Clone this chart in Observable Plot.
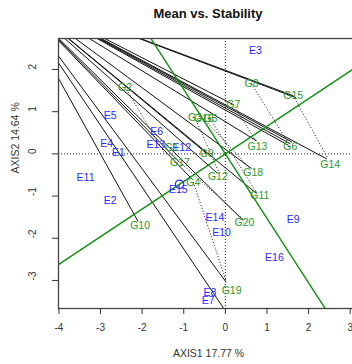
<!DOCTYPE html>
<html><head><meta charset="utf-8">
<script src="https://cdn.jsdelivr.net/npm/d3@7"></script>
<script src="https://cdn.jsdelivr.net/npm/@observablehq/plot@0.6"></script>
<style>
html,body{margin:0;padding:0;background:#fff;overflow:hidden;}
#wrap{position:relative;width:352px;height:364px;overflow:hidden;font-family:"Liberation Sans",Arial,sans-serif;}
#title{position:absolute;left:108px;width:200px;top:6px;text-align:center;font-weight:bold;font-size:13px;color:#111;}
#chart{position:absolute;left:0;top:0;width:360px;}
#chart svg{max-width:none !important;}
</style></head><body>
<div id="wrap"><div id="chart"></div><div id="title">Mean vs. Stability</div></div>
<script>
// Environments (blue)
const envNames = ["E1","E2","E3","E4","E5","E6","E7","E8","E9","E10","E11","E12","E13","E14","E15","E16"];
const envX = [-2.57,-2.77,0.72,-2.85,-2.77,-1.65,-0.41,-0.37,1.63,-0.09,-3.36,-1.05,-1.67,-0.25,-1.13,1.18];
const envY = [0.04,-1.11,2.45,0.24,0.91,0.53,-3.48,-3.29,-1.56,-1.87,-0.57,0.16,0.21,-1.52,-0.85,-2.46];
// Genotypes (green)
const genNames = ["G1","G2","G3","G4","G5","G6","G7","G8","G9","G10","G11","G12","G13","G14","G15","G16","G17","G18","G19","G20"];
const genX = [-1.29,-2.41,-0.73,-0.77,-0.36,1.56,0.19,0.63,-0.45,-2.05,0.83,-0.18,0.77,2.52,1.63,-0.52,-1.09,0.67,0.15,0.46];
const genY = [0.16,1.58,0.86,-0.67,0.83,0.18,1.17,1.66,0.01,-1.70,-0.99,-0.54,0.17,-0.26,1.38,0.83,-0.20,-0.44,-3.24,-1.64];
// Average environment coordinate (small circle)
const aecX = -1.1, aecY = -0.72;
// Solid lines: common far point (outside the frame) and line ends
const solidStartX = -5.2, solidStartY = 3.9;
const solidEndX = [1.63,1.70,2.44,1.56,1.52,1.60,0.75,0.63,0.75,0.43,0.02,0.02,-2.10,-0.20,-0.45,-0.80,-1.10,0.19];
const solidEndY = [1.38,1.33,-0.12,0.24,0.20,0.28,0.31,-0.35,-0.94,-1.58,-3.04,-3.75,-1.60,-0.45,0.01,-0.60,-0.20,1.17];
// Dotted lines: from a genotype to its foot point
const dotFromX = [-2.41,0.63,1.63,0.19,-0.73,-0.52,-0.36,-1.09,-0.77];
const dotFromY = [1.58,1.66,1.38,1.17,0.86,0.83,0.83,-0.20,-0.67];
const dotToX = [-1.45,1.55,2.45,0.75,-0.15,0.60,0.75,0.43,0.02];
const dotToY = [0.00,0.20,-0.08,0.28,-0.45,-0.35,-0.92,-1.55,-3.02];
// Axes
const xTicks = [-4,-3,-2,-1,0,1,2,3];
const yTicks = [-3,-2,-1,0,1,2];
const xLabel = "AXIS1 17.77 %";
const yLabel = "AXIS2 14.64 %";

const env = envNames.map((n,i)=>({n, x:envX[i], y:envY[i]}));
const gen = genNames.map((n,i)=>({n, x:genX[i], y:genY[i]}));
const solid = solidEndX.map((x,i)=>({x1:solidStartX, y1:solidStartY, x2:x, y2:solidEndY[i]}));
const dotted = dotFromX.map((x,i)=>({x1:x, y1:dotFromY[i], x2:dotToX[i], y2:dotToY[i]}));
const s = aecY/aecX;
const absc = [-6,6].map(x=>({x, y:s*x}));
const ordi = [-6,6].map(y=>({x:-s*y, y}));

const blue = "#2b2bff", green = "#2a962a", gline = "#0f8f0f";
const chart = Plot.plot({
  width: 360, height: 364,
  marginLeft: 58, marginRight: 2, marginTop: 38, marginBottom: 56,
  x: {domain: [-4.01, 3.20], axis: null},
  y: {domain: [-3.665, 2.735], axis: null},
  style: {fontFamily: "Liberation Sans, Arial, sans-serif", background: "white", color: "#222", maxWidth: "none"},
  marks: [
    Plot.ruleX([0], {stroke: "#222", strokeDasharray: "1,2"}),
    Plot.ruleY([0], {stroke: "#222", strokeDasharray: "1,2"}),
    Plot.link(solid, {x1:"x1", y1:"y1", x2:"x2", y2:"y2", stroke: "#111", strokeWidth: 1, clip: true}),
    Plot.link(dotted, {x1:"x1", y1:"y1", x2:"x2", y2:"y2", stroke: "#111", strokeDasharray: "1,2", clip: true}),
    Plot.line(absc, {x:"x", y:"y", stroke: gline, strokeWidth: 1.4, clip: true}),
    Plot.line(ordi, {x:"x", y:"y", stroke: gline, strokeWidth: 1.4, clip: true}),
    Plot.dot([{x:aecX, y:aecY}], {x:"x", y:"y", r: 4.2, stroke: blue, fill: "none", strokeWidth: 1.2}),
    Plot.text(env, {x:"x", y:"y", text:"n", fill: blue, fontSize: 10.5}),
    Plot.text(gen, {x:"x", y:"y", text:"n", fill: green, fontSize: 10.5}),
    Plot.frame({stroke: "#444", strokeWidth: 1.3}),
    Plot.axisX({ticks: xTicks, anchor: "bottom", tickSize: 6, tickPadding: 9, fontSize: 10, tickFormat: d => String(d), label: null, stroke: "#333", color: "#333"}),
    Plot.axisY({ticks: yTicks, anchor: "left", tickSize: 6, tickFormat: () => "", label: null, stroke: "#333"}),
    Plot.text(yTicks, {y: d => d, text: d => String(d), frameAnchor: "left", dx: -26, rotate: -90, fontSize: 10, fill: "#333"}),
    Plot.text([xLabel], {text: d => d, frameAnchor: "bottom", dy: 48, fontSize: 10.5, fill: "#333"}),
    Plot.text([yLabel], {text: d => d, frameAnchor: "left", dx: -43, rotate: -90, fontSize: 10.5, fill: "#333"})
  ]
});
chart.style.maxWidth = "none";
document.getElementById("chart").appendChild(chart);
</script>
</body></html>
